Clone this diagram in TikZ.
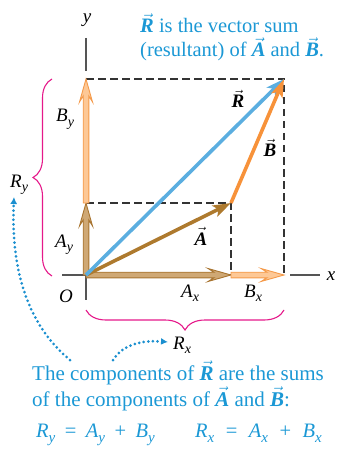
\documentclass[tikz,border=0pt]{standalone}
\usepackage{fontspec}
\setmainfont{Liberation Serif}
\usetikzlibrary{arrows.meta,decorations.pathreplacing,calc}
\definecolor{tanfill}{HTML}{CFA874}
\definecolor{tanline}{HTML}{A87430}
\definecolor{orfill}{HTML}{FDC896}
\definecolor{orline}{HTML}{F59A4A}
\definecolor{vecAcol}{HTML}{AE7A2E}
\definecolor{vecBcol}{HTML}{F7923A}
\definecolor{vecRcol}{HTML}{5BAEE0}
\definecolor{cyantxt}{HTML}{1B98D5}
\definecolor{magbrace}{HTML}{E5198A}
\definecolor{dotcol}{HTML}{1B8FCF}
\definecolor{axiscol}{HTML}{555555}
\newcommand\vb[1]{$\vec{\hbox{\bfseries\itshape #1}}$}
\newcommand\lsub[1]{\raisebox{-4.5pt}{\fontsize{14}{14}\selectfont\itshape #1}}
\newcommand\esub[1]{\raisebox{-5pt}{\fontsize{15}{15}\selectfont\itshape #1}}
\newcommand\opsp[2]{\hspace{#1}\upshape#2\hspace{#1}\itshape}
\tikzset{
  pics/comparrow/.style n args={3}{code={
    \filldraw[fill=#2,draw=#3,line width=0.9pt,line join=miter]
      (0,-2.8) -- ({#1-17},-2.8) -- ({#1-23},-6.5) -- (#1,0) -- ({#1-23},6.5) -- ({#1-17},2.8) -- (0,2.8) -- cycle;
  }},
  dashline/.style={draw=black!80, line width=1.1pt, dash pattern=on 7.5pt off 4.5pt},
  axisline/.style={draw=axiscol, line width=1.1pt},
  vecline/.style={line width=3.6pt, -{Stealth[length=18pt,width=12pt,inset=4pt]}},
  bracestyle/.style={draw=magbrace, line width=1.1pt, decorate},
  dotarrow/.style={draw=dotcol, line width=3pt, line cap=round, dash pattern=on 0pt off 4.6pt, -{Latex[length=7pt,width=7pt]}},
  cyantext/.style={text=cyantxt, inner sep=0pt, font=\fontsize{20.5}{25}\selectfont},
  lbl/.style={inner sep=0pt, font=\fontsize{19}{22}\selectfont\itshape},
  veclbl/.style={inner sep=0pt, anchor=base, font=\fontsize{19}{22}\selectfont},
}
\begin{document}
\begin{tikzpicture}[x=1pt,y=-1pt]
\useasboundingbox (0,0) rectangle (337,449);
% key points
\coordinate (O) at (86,275);
\coordinate (Ax) at (231,275);
\coordinate (Rx) at (284,275);
\coordinate (Ay) at (86,203);
\coordinate (Ry) at (86,79);
\coordinate (A) at (231,203);
\coordinate (R) at (284,79);
\coordinate (ytop) at (86,38);
\coordinate (ytopend) at (86,71);
\coordinate (ybot) at (86,300);
\coordinate (xleft) at (62,275);
\coordinate (xr1) at (290,275);
\coordinate (xr2) at (320,275);
% dashed lines
\draw[dashline] (Ry) -- (R) -- (Rx);
\draw[dashline] (Ay) -- (A) -- (Ax);
% axes
\draw[axisline] (ytop) -- (ytopend);
\draw[axisline] (O) -- (ybot);
\draw[axisline] (xleft) -- (O);
\draw[axisline] (xr1) -- (xr2);
% component arrows
\pic at (O) {comparrow={145}{tanfill}{tanline}};
\pic at (Ax) {comparrow={53}{orfill}{orline}};
\pic[rotate=90] at (O) {comparrow={72}{tanfill}{tanline}};
\pic[rotate=90] at (Ay) {comparrow={124}{orfill}{orline}};
% vectors
\draw[vecline, draw=vecAcol, fill=vecAcol] (O) -- (A);
\draw[vecline, draw=vecRcol, fill=vecRcol] (O) -- (R);
\draw[vecline, draw=vecBcol, fill=vecBcol] (A) -- (R);
% braces
\coordinate (lb1) at (52,276);
\coordinate (lb2) at (52,79);
\coordinate (bb1) at (284,310);
\coordinate (bb2) at (86,310);
\draw[bracestyle, decoration={brace,amplitude=19pt}] (lb1) -- (lb2);
\draw[bracestyle, decoration={brace,amplitude=20pt}] (bb1) -- (bb2);
% labels
\node[lbl] (ylab) at (87,20) {y};
\node[lbl] (xlab) at (331,276) {x};
\node[lbl] (Olab) at (66,296) {O};
\node[lbl, anchor=base west] (By) at (56,122) {B\lsub{y}};
\node[lbl, anchor=base west] (Aylab) at (55,247) {A\lsub{y}};
\node[lbl, anchor=base west] (Axlab) at (181,297) {A\lsub{x}};
\node[lbl, anchor=base west] (Bxlab) at (244,297) {B\lsub{x}};
\node[lbl, anchor=base west] (Rylab) at (10,187) {R\lsub{y}};
\node[lbl, anchor=base west] (Rxlab) at (173,349) {R\lsub{x}};
\node[veclbl] (Rvec) at (238,108) {\vb{R}};
\node[veclbl] (Bvec) at (270,157) {\vb{B}};
\node[veclbl] (Avec) at (201,245) {\vb{A}};
% dotted arrows
\coordinate (d1s) at (70,360);
\coordinate (d1e) at (14,197);
\coordinate (d2s) at (113,360);
\coordinate (d2e) at (168,342);
\draw[dotarrow] (d1s) .. controls (40,335) and (10,290) .. (d1e);
\draw[dotarrow] (d2s) .. controls (123,344) and (143,340) .. (d2e);
% texts
\node[cyantext, anchor=base west] (t1) at (140,33) {\vb{R} is the vector sum};
\node[cyantext, anchor=base west] (t2) at (140,57) {(resultant) of \vb{A} and \vb{B}.};
\node[cyantext, anchor=base west, font=\fontsize{21}{25}\selectfont] (b1) at (32,380) {The components of \vb{R} are the sums};
\node[cyantext, anchor=base west, font=\fontsize{21}{25}\selectfont] (b2) at (32,406) {of the components of \vb{A} and \vb{B}:};
\node[cyantext, anchor=base west] (e1) at (36,437) {\itshape R\esub{y}\opsp{9.5pt}{=}A\esub{y}\opsp{9.5pt}{+}B\esub{y}};
\node[cyantext, anchor=base west] (e2) at (195,437) {\itshape R\esub{x}\opsp{11.5pt}{=}A\esub{x}\opsp{11.5pt}{+}B\esub{x}};
\end{tikzpicture}
\end{document}
